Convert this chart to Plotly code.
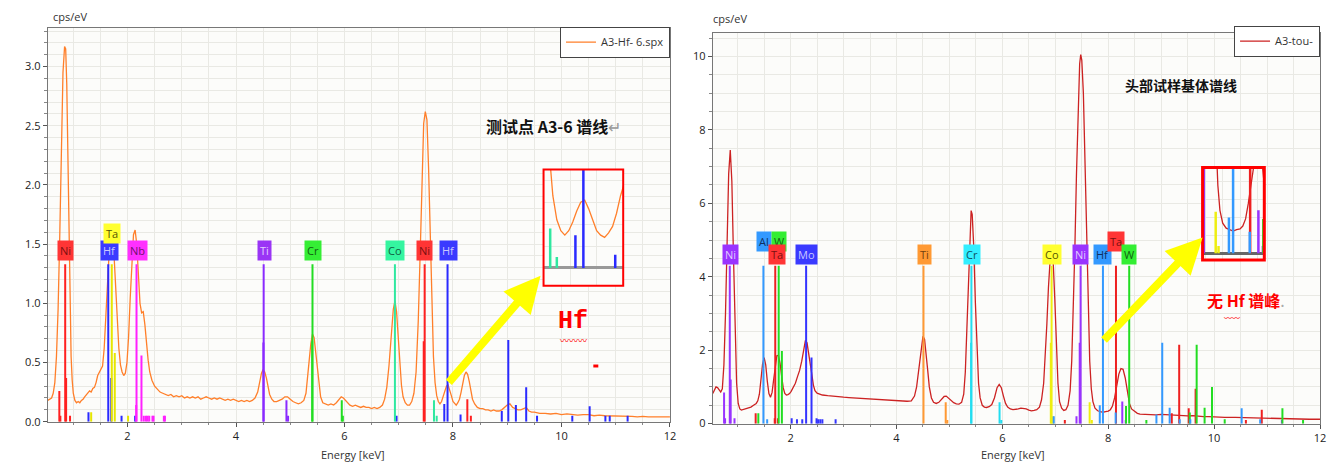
import plotly.graph_objects as go

W, H = 1339, 473

# ---------------- data: left spectrum (A3-Hf- 6.spx) ----------------
left_energy = [0.53,0.56,0.60,0.63,0.66,0.69,0.72,0.75,0.78,0.81,0.84,0.86,0.88,0.90,0.92,0.94,0.96,0.98,1.00,1.03,
    1.06,1.09,1.12,1.15,1.18,1.21,1.24,1.27,1.30,1.33,1.36,1.39,1.42,1.45,1.48,1.51,1.54,1.57,1.60,1.63,
    1.66,1.69,1.72,1.75,1.78,1.81,1.84,1.87,1.90,1.93,1.96,1.99,2.02,2.05,2.08,2.11,2.14,2.17,2.20,2.23,
    2.26,2.29,2.32,2.35,2.38,2.41,2.45,2.50,2.55,2.60,2.65,2.70,2.75,2.80,2.85,2.90,2.95,3.00,3.05,3.10,
    3.15,3.20,3.25,3.30,3.35,3.40,3.45,3.50,3.55,3.60,3.65,3.70,3.75,3.80,3.85,3.90,3.95,4.00,4.05,4.10,
    4.15,4.20,4.25,4.30,4.35,4.40,4.44,4.47,4.50,4.53,4.56,4.59,4.62,4.66,4.70,4.75,4.80,4.85,4.90,4.95,
    5.00,5.05,5.10,5.15,5.20,5.25,5.29,5.32,5.35,5.38,5.41,5.44,5.47,5.50,5.53,5.56,5.60,5.65,5.70,5.75,
    5.80,5.85,5.90,5.94,5.98,6.02,6.06,6.10,6.15,6.20,6.25,6.30,6.35,6.40,6.45,6.50,6.55,6.60,6.65,6.70,
    6.74,6.78,6.82,6.86,6.90,6.93,6.96,6.99,7.02,7.05,7.08,7.12,7.16,7.20,7.24,7.28,7.32,7.36,7.40,7.43,
    7.46,7.49,7.52,7.55,7.58,7.61,7.64,7.67,7.70,7.73,7.76,7.79,7.82,7.85,7.88,7.91,7.94,7.97,8.00,8.03,
    8.06,8.09,8.12,8.15,8.18,8.21,8.24,8.27,8.30,8.33,8.36,8.40,8.45,8.50,8.55,8.60,8.65,8.70,8.75,8.80,
    8.85,8.90,8.95,9.00,9.05,9.10,9.15,9.20,9.25,9.30,9.35,9.40,9.45,9.50,9.60,9.70,9.80,9.90,10.0,10.1,
    10.2,10.3,10.4,10.5,10.6,10.7,10.8,10.9,11.0,11.1,11.2,11.3,11.4,11.5,11.6,11.7,11.8,11.9,12.0]
left_cps = [0.18,0.19,0.20,0.24,0.33,0.55,0.95,1.55,2.30,2.95,3.17,3.15,2.85,2.20,1.45,0.90,0.55,0.35,0.24,0.18,
    0.16,0.17,0.16,0.18,0.19,0.21,0.23,0.25,0.26,0.25,0.28,0.29,0.33,0.39,0.42,0.44,0.47,0.62,0.88,1.18,
    1.42,1.55,1.56,1.42,1.15,0.86,0.62,0.48,0.42,0.39,0.41,0.50,0.72,1.05,1.38,1.58,1.62,1.50,1.25,1.00,
    0.92,0.93,0.82,0.66,0.52,0.42,0.35,0.30,0.27,0.25,0.24,0.23,0.22,0.23,0.21,0.22,0.21,0.22,0.20,0.21,
    0.20,0.21,0.20,0.21,0.19,0.20,0.21,0.20,0.19,0.20,0.19,0.20,0.19,0.18,0.19,0.18,0.19,0.18,0.17,0.18,
    0.17,0.18,0.17,0.18,0.20,0.25,0.34,0.41,0.44,0.42,0.37,0.29,0.23,0.19,0.17,0.17,0.18,0.19,0.21,0.21,
    0.19,0.17,0.16,0.15,0.16,0.18,0.24,0.36,0.52,0.66,0.74,0.71,0.58,0.42,0.29,0.21,0.16,0.15,0.14,0.15,
    0.14,0.16,0.19,0.21,0.20,0.18,0.16,0.14,0.13,0.14,0.13,0.12,0.13,0.12,0.12,0.11,0.12,0.11,0.12,0.14,
    0.19,0.29,0.47,0.72,0.95,1.02,0.93,0.72,0.48,0.31,0.21,0.16,0.14,0.14,0.17,0.24,0.42,0.85,1.50,2.10,
    2.52,2.62,2.55,2.15,1.55,0.95,0.55,0.33,0.22,0.17,0.15,0.17,0.21,0.26,0.30,0.31,0.27,0.22,0.17,0.15,
    0.14,0.16,0.19,0.25,0.33,0.39,0.42,0.40,0.34,0.26,0.19,0.15,0.12,0.11,0.11,0.10,0.10,0.09,0.10,0.09,
    0.09,0.10,0.12,0.14,0.15,0.12,0.11,0.10,0.10,0.11,0.12,0.09,0.08,0.08,0.07,0.07,0.065,0.07,0.06,0.065,
    0.06,0.055,0.06,0.06,0.05,0.055,0.05,0.05,0.045,0.05,0.045,0.045,0.04,0.045,0.04,0.04,0.035,0.04,0.04]

# ---------------- data: right spectrum (A3-tou-) ----------------
right_energy = [0.53,0.56,0.59,0.62,0.65,0.68,0.71,0.74,0.77,0.80,0.83,0.86,0.89,0.92,0.95,0.98,1.01,1.04,1.07,1.10,
    1.15,1.20,1.25,1.30,1.35,1.38,1.41,1.44,1.47,1.50,1.53,1.56,1.59,1.62,1.65,1.68,1.71,1.74,1.77,1.80,
    1.83,1.86,1.89,1.92,1.95,1.98,2.01,2.05,2.09,2.13,2.17,2.21,2.25,2.28,2.31,2.34,2.37,2.40,2.43,2.46,
    2.50,2.55,2.60,2.70,2.80,2.90,3.00,3.10,3.20,3.30,3.40,3.50,3.60,3.70,3.80,3.90,4.00,4.10,4.20,4.28,
    4.34,4.38,4.42,4.46,4.50,4.53,4.56,4.59,4.62,4.66,4.70,4.75,4.80,4.85,4.90,4.94,4.98,5.03,5.08,5.13,
    5.18,5.23,5.27,5.30,5.33,5.36,5.39,5.41,5.43,5.46,5.49,5.52,5.55,5.58,5.62,5.66,5.70,5.75,5.80,5.85,
    5.90,5.94,5.98,6.02,6.06,6.10,6.15,6.20,6.25,6.30,6.35,6.40,6.45,6.50,6.55,6.60,6.65,6.70,6.74,6.78,
    6.81,6.84,6.87,6.90,6.93,6.96,6.99,7.02,7.05,7.08,7.12,7.16,7.20,7.24,7.28,7.31,7.34,7.37,7.40,7.43,
    7.46,7.48,7.50,7.53,7.56,7.59,7.62,7.65,7.68,7.71,7.75,7.80,7.85,7.90,7.95,8.00,8.04,8.08,8.12,8.16,
    8.20,8.24,8.28,8.32,8.36,8.40,8.44,8.50,8.55,8.60,8.70,8.80,8.90,9.00,9.10,9.20,9.30,9.40,9.50,9.60,
    9.70,9.80,9.90,10.0,10.2,10.4,10.6,10.8,11.0,11.2,11.4,11.6,11.8,12.0]
right_cps = [0.82,0.92,1.00,0.98,0.92,0.86,0.95,1.60,3.00,5.00,6.80,7.45,6.60,4.60,2.50,1.10,0.55,0.40,0.37,0.38,
    0.40,0.42,0.45,0.50,0.55,0.62,0.80,1.20,1.62,1.80,1.60,1.15,0.82,0.72,0.85,1.20,1.60,1.85,1.86,1.65,
    1.30,0.98,0.82,0.78,0.79,0.82,0.88,0.98,1.10,1.28,1.45,1.70,2.05,2.27,2.20,1.95,1.70,1.35,1.05,0.90,
    0.83,0.80,0.78,0.76,0.74,0.73,0.72,0.71,0.70,0.70,0.68,0.68,0.67,0.66,0.65,0.64,0.63,0.62,0.61,0.62,
    0.75,1.00,1.50,2.05,2.38,2.30,1.95,1.45,1.00,0.70,0.58,0.55,0.58,0.66,0.74,0.75,0.70,0.62,0.57,0.54,
    0.53,0.58,0.80,1.40,2.50,3.80,5.10,5.80,5.70,4.80,3.30,2.00,1.10,0.70,0.50,0.45,0.44,0.46,0.52,0.70,
    0.98,1.07,0.98,0.75,0.55,0.45,0.40,0.38,0.38,0.40,0.42,0.42,0.40,0.37,0.35,0.36,0.38,0.45,0.65,1.10,
    1.80,2.70,3.70,4.40,4.70,4.40,3.40,2.10,1.10,0.60,0.42,0.36,0.38,0.50,0.90,1.70,3.00,4.80,6.80,8.60,
    9.80,10.05,9.90,9.00,7.20,5.00,3.00,1.70,0.95,0.60,0.42,0.35,0.33,0.31,0.33,0.34,0.38,0.48,0.70,1.00,
    1.35,1.50,1.48,1.25,0.85,0.55,0.40,0.32,0.28,0.26,0.25,0.24,0.24,0.25,0.24,0.23,0.22,0.22,0.21,0.22,
    0.20,0.19,0.19,0.18,0.17,0.17,0.16,0.15,0.14,0.14,0.13,0.13,0.12,0.12]

# ---------------- data: element marker lines, left panel ----------------
L_ni_e = [0.743, 0.762, 0.851, 0.868, 0.94, 7.461, 7.478, 8.265, 8.33]
L_ni_h = [0.26, 0.05, 1.33, 0.37, 0.05, 0.68, 1.33, 0.19, 0.05]
L_hf_e = [1.28, 1.645, 1.70, 1.89, 2.14, 6.96, 7.84, 7.90, 8.14, 8.90, 9.02, 9.16, 9.35, 9.55, 10.2, 10.52, 10.81, 10.89, 11.22]
L_hf_h = [0.08, 1.33, 0.37, 0.05, 0.05, 0.05, 0.15, 1.33, 0.06, 0.09, 0.69, 0.14, 0.29, 0.05, 0.05, 0.13, 0.05, 0.05, 0.05]
L_ta_e = [1.33, 1.71, 1.765, 2.01]
L_ta_h = [0.08, 1.33, 0.58, 0.05]
L_nb_e = [2.16, 2.166, 2.257, 2.30, 2.34, 2.37, 2.40, 2.46, 2.48, 2.67, 2.69]
L_nb_h = [0.14, 1.33, 0.56, 0.05, 0.05, 0.05, 0.05, 0.05, 0.05, 0.05, 0.05]
L_ti_e = [4.505, 4.51, 4.93, 4.96]
L_ti_h = [0.67, 1.33, 0.18, 0.05]
L_cr_e = [5.405, 5.41, 5.95, 5.97]
L_cr_h = [0.68, 1.33, 0.18, 0.05]
L_co_e = [6.93, 7.65, 7.70]
L_co_h = [1.33, 0.18, 0.05]

# ---------------- data: element marker lines, right panel ----------------
R_ni_e = [0.743, 0.762, 0.851, 0.868, 0.94, 7.40, 7.461, 7.478, 8.265, 8.33, 11.28]
R_ni_h = [0.85, 0.15, 4.3, 1.2, 0.15, 0.2, 2.2, 4.3, 0.6, 0.1, 0.1]
R_al_e = [1.486, 1.557]
R_al_h = [4.3, 0.12]
R_ta_e = [1.34, 1.70, 1.71, 1.76, 7.18, 8.146, 9.20, 9.34, 9.52, 9.65, 10.6, 10.9]
R_ta_h = [0.28, 0.15, 4.3, 0.15, 0.1, 4.3, 0.28, 2.15, 0.42, 0.95, 0.1, 0.38]
R_w_e = [1.39, 1.775, 1.835, 8.336, 8.396, 8.72, 9.54, 9.67, 9.82, 9.96, 10.2, 11.29, 11.68]
R_w_h = [0.28, 4.3, 1.98, 0.48, 4.3, 0.1, 0.3, 2.15, 0.43, 1.0, 0.12, 0.42, 0.1]
R_mo_e = [2.02, 2.12, 2.22, 2.293, 2.395, 2.49, 2.52, 2.56, 2.60, 2.85]
R_mo_h = [0.15, 0.12, 0.12, 4.3, 1.8, 0.15, 0.12, 0.12, 0.12, 0.12]
R_ti_e = [4.51, 4.93, 4.96]
R_ti_h = [4.3, 0.58, 0.1]
R_cr_e = [5.41, 5.415, 5.947, 5.98]
R_cr_h = [2.2, 4.3, 0.58, 0.1]
R_co_e = [6.915, 6.93, 6.96, 7.649, 7.69]
R_co_h = [2.2, 4.3, 0.2, 0.58, 0.1]
R_hf_e = [6.97, 7.84, 7.90, 8.14, 8.91, 9.02, 9.16, 9.35, 9.55, 10.52, 10.87]
R_hf_h = [0.2, 0.5, 4.3, 0.3, 0.25, 2.2, 0.43, 0.12, 0.12, 0.42, 0.12]

# element label boxes: (text, energy, cps level, box colour, text colour)
left_labels = [("Ni", 0.86, 1.45, "#ff3535", "#7a1010"), ("Hf", 1.66, 1.45, "#3a3aff", "#c8c8ff"),
               ("Ta", 1.72, 1.59, "#ffff30", "#555500"), ("Nb", 2.18, 1.45, "#ff30ff", "#701070"),
               ("Ti", 4.52, 1.45, "#9a35f5", "#e2ccff"), ("Cr", 5.42, 1.45, "#35ee35", "#106010"),
               ("Co", 6.93, 1.45, "#35f5a0", "#106040"), ("Ni", 7.48, 1.45, "#ff3535", "#7a1010"),
               ("Hf", 7.91, 1.45, "#3a3aff", "#c8c8ff")]
right_labels = [("Ni", 0.86, 4.6, "#9933ff", "#e0ccff"), ("Al", 1.49, 4.95, "#3399ff", "#103060"),
                ("W", 1.79, 4.95, "#33ee33", "#106010"), ("Ta", 1.74, 4.6, "#ff3535", "#7a1010"),
                ("Mo", 2.30, 4.6, "#3a3aff", "#c8c8ff"), ("Ti", 4.52, 4.6, "#ff9933", "#704010"),
                ("Cr", 5.42, 4.6, "#33eeff", "#105060"), ("Co", 6.93, 4.6, "#ffff30", "#555500"),
                ("Ni", 7.48, 4.6, "#9933ff", "#e0ccff"), ("Hf", 7.90, 4.6, "#3399ff", "#103060"),
                ("Ta", 8.15, 4.95, "#ff3535", "#7a1010"), ("W", 8.40, 4.6, "#33ee33", "#106010")]

left_series = [(L_ni_e, L_ni_h, "#ff2020"), (L_hf_e, L_hf_h, "#2a2aff"), (L_ta_e, L_ta_h, "#e6e600"),
               (L_nb_e, L_nb_h, "#ff20ff"), (L_ti_e, L_ti_h, "#8a2aff"), (L_cr_e, L_cr_h, "#22dd22"),
               (L_co_e, L_co_h, "#30e8a0")]
right_series = [(R_ni_e, R_ni_h, "#9933ff"), (R_al_e, R_al_h, "#3399ff"), (R_ta_e, R_ta_h, "#ee2020"),
                (R_w_e, R_w_h, "#22dd22"), (R_mo_e, R_mo_h, "#3333ff"), (R_ti_e, R_ti_h, "#ff9933"),
                (R_cr_e, R_cr_h, "#22ddf0"), (R_co_e, R_co_h, "#eeee10"), (R_hf_e, R_hf_h, "#3399ff")]


def px(x):
    return x / W


def py(y):
    return 1 - y / H


def stems(es, hs):
    xs, ys = [], []
    for e, h in zip(es, hs):
        xs += [e, e, None]
        ys += [0, h, None]
    return xs, ys


fig = go.Figure()

# spectra
for xa, ya, show in (("x", "y", True), ("x3", "y3", False)):
    fig.add_trace(go.Scatter(x=left_energy, y=left_cps, mode="lines", name="A3-Hf- 6.spx",
                             line=dict(color="#ff7f2a", width=1.3), xaxis=xa, yaxis=ya,
                             showlegend=show, legend="legend"))
for xa, ya, show in (("x2", "y2", True), ("x4", "y4", False)):
    fig.add_trace(go.Scatter(x=right_energy, y=right_cps, mode="lines", name="A3-tou-",
                             line=dict(color="#cc2222", width=1.3), xaxis=xa, yaxis=ya,
                             showlegend=show, legend="legend2"))

# element lines
for series, axes in ((left_series, (("x", "y", 2), ("x3", "y3", 2.5))),
                     (right_series, (("x2", "y2", 2), ("x4", "y4", 2.5)))):
    for es, hs, col in series:
        xs, ys = stems(es, hs)
        for xa, ya, lw in axes:
            fig.add_trace(go.Scatter(x=xs, y=ys, mode="lines", line=dict(color=col, width=lw),
                                     xaxis=xa, yaxis=ya, showlegend=False, hoverinfo="skip"))

ann = []
for labels, xr, yr in ((left_labels, "x", "y"), (right_labels, "x2", "y2")):
    for t, e, lv, bg, tc in labels:
        ann.append(dict(x=e, y=lv, xref=xr, yref=yr, text=t, showarrow=False,
                        xanchor="center", yanchor="middle",
                        bgcolor=bg, borderpad=2, font=dict(family="Open Sans", size=11, color=tc)))

tickfont = dict(family="Open Sans", size=11, color="#222")
grid = "#e9e9e4"
common_x = dict(range=[0.53, 12.001], dtick=2, tick0=0, showgrid=True, gridcolor=grid,
                ticks="outside", ticklen=4, tickcolor="#555", linecolor="#777", mirror=True,
                showline=True, zeroline=False, tickfont=tickfont,
                minor=dict(dtick=0.5, showgrid=True, gridcolor=grid, ticks="outside", ticklen=2, tickcolor="#888"))

fig.update_layout(
    width=W, height=H, margin=dict(l=0, r=0, t=0, b=0),
    paper_bgcolor="white", plot_bgcolor="#fcfcfa",
    xaxis=dict(domain=[px(48), px(673)], anchor="y", **common_x),
    yaxis=dict(domain=[py(428), py(28)], anchor="x", range=[0, 3.33], dtick=0.5, tickformat=".1f",
               showgrid=True, gridcolor=grid, ticks="outside", ticklen=4, tickcolor="#555",
               linecolor="#777", mirror=True, showline=True, zeroline=False, tickfont=tickfont,
               minor=dict(dtick=0.1, showgrid=True, gridcolor=grid, ticks="outside", ticklen=3, tickcolor="#888")),
    xaxis2=dict(domain=[px(716), px(1326)], anchor="y2", **common_x),
    yaxis2=dict(domain=[py(430), py(33)], anchor="x2", range=[0, 10.65], dtick=2,
                showgrid=True, gridcolor=grid, ticks="outside", ticklen=4, tickcolor="#555",
                linecolor="#777", mirror=True, showline=True, zeroline=False, tickfont=tickfont,
                minor=dict(dtick=0.5, showgrid=True, gridcolor=grid, ticks="outside", ticklen=3, tickcolor="#888")),
    xaxis3=dict(domain=[px(546), px(626)], anchor="y3", range=[7.6, 8.2], showticklabels=False,
                showgrid=True, gridcolor=grid, dtick=0.2, zeroline=False, showline=False, ticks=""),
    yaxis3=dict(domain=[py(290), py(172)], anchor="x3", range=[-0.081, 0.45], showticklabels=False,
                showgrid=True, gridcolor=grid, dtick=0.1, zeroline=True, zerolinecolor="#999",
                zerolinewidth=3, showline=False, ticks=""),
    xaxis4=dict(domain=[px(1208), px(1270)], anchor="y4", range=[7.46, 8.35], showticklabels=False,
                showgrid=True, gridcolor=grid, dtick=0.25, zeroline=False, showline=False, ticks=""),
    yaxis4=dict(domain=[py(264), py(170)], anchor="x4", range=[-0.097, 1.2], showticklabels=False,
                showgrid=True, gridcolor=grid, dtick=0.25, zeroline=True, zerolinecolor="#666",
                zerolinewidth=3, showline=False, ticks=""),
    legend=dict(x=px(673), y=py(27), xanchor="right", yanchor="top", bgcolor="white",
                bordercolor="#444", borderwidth=1, font=dict(family="Open Sans", size=11, color="#333"),
                itemwidth=30, tracegroupgap=0),
    legend2=dict(x=px(1326), y=py(26), xanchor="right", yanchor="top", bgcolor="white",
                 bordercolor="#444", borderwidth=1, font=dict(family="Open Sans", size=11, color="#333"),
                 itemwidth=30, tracegroupgap=0),
    showlegend=True,
)


def txt(x, y, text, **font):
    return dict(x=px(x), y=py(y), xref="paper", yref="paper", text=text, showarrow=False,
                xanchor="center", yanchor="middle", font=font)


ann += [
    txt(70, 17, "cps/eV", family="Open Sans", size=11, color="#333"),
    txt(733, 19, "cps/eV", family="Open Sans", size=11, color="#333"),
    txt(355, 461, "Energy [keV]", family="Open Sans", size=11, color="#333"),
    txt(1018, 461, "Energy [keV]", family="Open Sans", size=11, color="#333"),
    txt(556, 128, "<b>测试点 A3-6 谱线</b><span style='color:#999'>↵</span>",
        family="Noto Sans CJK SC", size=16, color="#111"),
    txt(1186, 86, "<b>头部试样基体谱线</b>", family="Noto Sans CJK SC", size=14, color="#111"),
    txt(576, 326, "<b>Hf</b>", family="Liberation Mono", size=25, color="#ff0000"),
    txt(576, 346, "〰〰〰", family="Noto Sans CJK SC", size=9, color="#ff0000"),
    txt(1252, 304, "<b>无 Hf 谱峰</b><span style='color:#aaa'>.</span>",
        family="Noto Sans CJK SC", size=16, color="#ff0000"),
    txt(1238, 322, "〰〰", family="Noto Sans CJK SC", size=8, color="#ff0000"),
    # yellow arrows
    dict(x=px(543), y=py(280), xref="paper", yref="paper", ax=-93, ay=108, text="", showarrow=True,
         arrowcolor="#ffff00", arrowwidth=8, arrowhead=2, arrowsize=0.9, standoff=0),
    dict(x=px(1208), y=py(241), xref="paper", yref="paper", ax=-100, ay=104, text="", showarrow=True,
         arrowcolor="#ffff00", arrowwidth=8, arrowhead=2, arrowsize=0.9, standoff=0),
]
fig.update_layout(annotations=ann)

fig.update_layout(shapes=[
    dict(type="rect", xref="paper", yref="paper", x0=px(546), x1=px(626), y0=py(290), y1=py(172),
         line=dict(color="#ff0000", width=2), layer="above"),
    dict(type="rect", xref="paper", yref="paper", x0=px(1208), x1=px(1270), y0=py(264), y1=py(170),
         line=dict(color="#ff0000", width=3), layer="above"),
    dict(type="rect", xref="paper", yref="paper", x0=px(596), x1=px(601), y0=py(373), y1=py(370),
         line=dict(width=0), fillcolor="#ff0000", layer="above"),
])

fig.write_html("out.html", config={"displayModeBar": False},
               post_script="document.body.style.margin='0';document.body.style.padding='0';"
                           "document.body.style.overflow='hidden';")
